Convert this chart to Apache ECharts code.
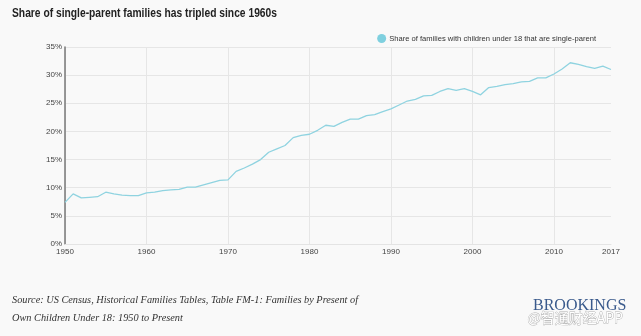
<!DOCTYPE html>
<html>
<head>
<meta charset="utf-8">
<script src="https://cdn.jsdelivr.net/npm/echarts@6/dist/echarts.min.js"></script>
<style>
html,body{margin:0;padding:0;background:#f9f9f9;}
#chart{width:641px;height:336px;}
</style>
</head>
<body>
<div id="chart"></div>
<script>
var years = [];
for (var y = 1950; y <= 2017; y++) years.push(String(y));
var shareSingleParent = [
  7.4, 8.9, 8.2, 8.3, 8.4, 9.2, 8.9, 8.7, 8.6, 8.6,
  9.1, 9.2, 9.5, 9.6, 9.7, 10.1, 10.1, 10.5, 10.9, 11.3,
  11.4, 12.9, 13.5, 14.2, 15.0, 16.3, 16.9, 17.5, 18.9, 19.3,
  19.5, 20.2, 21.1, 20.9, 21.6, 22.2, 22.2, 22.8, 23.0, 23.5,
  24.0, 24.7, 25.4, 25.7, 26.3, 26.4, 27.1, 27.6, 27.3, 27.6,
  27.1, 26.5, 27.8, 28.0, 28.3, 28.5, 28.8, 28.9, 29.5, 29.5,
  30.2, 31.1, 32.2, 31.9, 31.5, 31.2, 31.6, 31.0
];
var xTickLabels = ['1950','1960','1970','1980','1990','2000','2010','2017'];
var gridYears = ['1950','1960','1970','1980','1990','2000','2010'];
var seriesName = 'Share of families with children under 18 that are single-parent';
var titleText = 'Share of single-parent families has tripled since 1960s';
var sourceLines = ['Source: US Census, Historical Families Tables, Table FM-1: Families by Present of',
                   'Own Children Under 18: 1950 to Present'];

function fitScale(text, font, target) {
  var c = document.createElement('canvas').getContext('2d');
  c.font = font;
  var w = c.measureText(text).width;
  return w > 0 ? target / w : 1;
}
var titleFont = 'bold 13px "Liberation Sans"';
var titleScale = fitScale(titleText, titleFont, 265);
var srcFont = 'italic 11px "Liberation Serif"';
var srcScale = fitScale(sourceLines[0], srcFont, 346);

var chart = echarts.init(document.getElementById('chart'), null, {renderer:'canvas'});
chart.setOption({
  backgroundColor: '#f9f9f9',
  animation: false,
  legend: {
    data: [{name: seriesName, icon: 'circle'}],
    right: 40, top: 29,
    itemWidth: 9, itemHeight: 9, itemGap: 4,
    textStyle: {fontFamily: 'Liberation Sans', fontSize: 7.6, color: '#333', padding: [0,0,0,-2]}
  },
  grid: {left: 65, right: 30, top: 47, bottom: 92, containLabel: false},
  xAxis: {
    type: 'category',
    data: years,
    boundaryGap: false,
    axisLine: {show: true, lineStyle: {color: '#e4e4e4', width: 1}},
    axisTick: {show: false},
    axisLabel: {
      interval: function (i, v) { return xTickLabels.indexOf(v) >= 0; },
      color: '#444', fontFamily: 'Liberation Sans', fontSize: 8, margin: 4
    },
    splitLine: {
      show: true,
      interval: function (i, v) { return gridYears.indexOf(v) >= 0; },
      lineStyle: {color: '#e6e6e6', width: 1}
    }
  },
  yAxis: {
    type: 'value',
    min: 0, max: 35, interval: 5,
    axisLine: {show: true, lineStyle: {color: '#777', width: 1.5}},
    axisTick: {show: false},
    axisLabel: {formatter: '{value}%', color: '#444', fontFamily: 'Liberation Sans', fontSize: 8, margin: 3},
    splitLine: {show: true, lineStyle: {color: '#e6e6e6', width: 1}}
  },
  series: [{
    name: seriesName,
    type: 'line',
    data: shareSingleParent,
    showSymbol: false,
    symbol: 'circle',
    itemStyle: {color: '#7fd0df'},
    lineStyle: {color: '#8fd3e0', width: 1.3}
  }],
  graphic: [
    {type: 'text', x: 12, y: 13, scaleX: titleScale, originX: 0,
     style: {text: titleText, fontFamily: 'Liberation Sans', fontWeight: 'bold', fontSize: 13, fill: '#222', verticalAlign: 'middle'}},
    {type: 'text', x: 12, y: 300, scaleX: srcScale, originX: 0,
     style: {text: sourceLines[0], fontFamily: 'Liberation Serif', fontStyle: 'italic', fontSize: 11, fill: '#333', verticalAlign: 'middle'}},
    {type: 'text', x: 12, y: 318, scaleX: srcScale, originX: 0,
     style: {text: sourceLines[1], fontFamily: 'Liberation Serif', fontStyle: 'italic', fontSize: 11, fill: '#333', verticalAlign: 'middle'}},
    {type: 'text', left: 533, top: 298, style: {text: 'BROOKINGS', fontFamily: 'Liberation Serif', fontSize: 16, fill: '#3a5a8c'}},
    {type: 'text', left: 527, top: 310, style: {text: '@智通财经APP', fontFamily: 'Noto Sans CJK SC', fontSize: 14, fill: '#ffffff', stroke: '#b0b0b0', lineWidth: 0.8}}
  ]
});
</script>
</body>
</html>
